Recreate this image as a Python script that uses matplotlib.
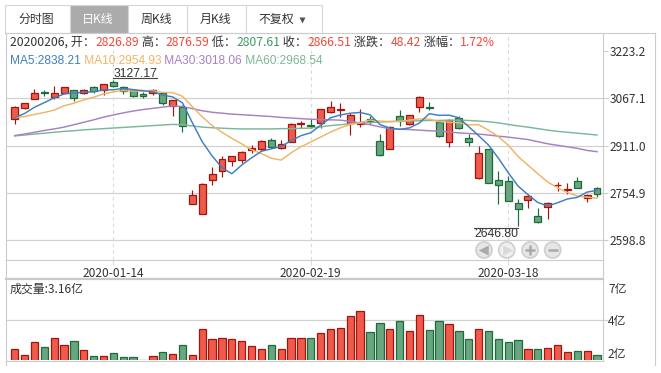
import numpy as np
import matplotlib.pyplot as plt
from matplotlib.patches import Rectangle, Circle
from matplotlib.transforms import ScaledTranslation

# ---- style ----
W, H = 661, 373
TEXT = '#333333'
BORDER = '#cccccc'
GRID = '#d2d2d2'
RED_FILL, RED_EDGE = '#ef5a4a', '#a3140d'
GRN_FILL, GRN_EDGE = '#68a680', '#1d6b39'
VAL_RED, VAL_GRN = '#ee4b3b', '#3f9b62'
MA_COLORS = ['#3f7fbf', '#f2b366', '#a780c2', '#7ab897']

plt.rcParams['font.family'] = ['Noto Sans CJK SC', 'DejaVu Sans']
plt.rcParams['axes.unicode_minus'] = False

# ---- data (上证指数 日K) ----
dates = ['2019-12-30', '2019-12-31', '2020-01-02', '2020-01-03', '2020-01-06', '2020-01-07',
         '2020-01-08', '2020-01-09', '2020-01-10', '2020-01-13', '2020-01-14', '2020-01-15',
         '2020-01-16', '2020-01-17', '2020-01-20', '2020-01-21', '2020-01-22', '2020-01-23',
         '2020-02-03', '2020-02-04', '2020-02-05', '2020-02-06', '2020-02-07', '2020-02-10',
         '2020-02-11', '2020-02-12', '2020-02-13', '2020-02-14', '2020-02-17', '2020-02-18',
         '2020-02-19', '2020-02-20', '2020-02-21', '2020-02-24', '2020-02-25', '2020-02-26',
         '2020-02-27', '2020-02-28', '2020-03-02', '2020-03-03', '2020-03-04', '2020-03-05',
         '2020-03-06', '2020-03-09', '2020-03-10', '2020-03-11', '2020-03-12', '2020-03-13',
         '2020-03-16', '2020-03-17', '2020-03-18', '2020-03-19', '2020-03-20', '2020-03-23',
         '2020-03-24', '2020-03-25', '2020-03-26', '2020-03-27', '2020-03-30', '2020-03-31']

opens = [2998.2, 3036.4, 3066.3, 3089.0, 3070.9, 3085.5, 3094.2, 3084.0, 3103.0, 3095.0,
         3121.0, 3103.0, 3095.0, 3081.0, 3083.0, 3085.5, 3042.0, 3037.95, 2716.70, 2685.27,
         2797.0, 2826.89, 2859.0, 2863.0, 2895.0, 2899.0, 2928.0, 2902.0, 2924.0, 2982.0,
         2980.5, 2985.0, 3023.0, 3027.0, 2985.0, 2982.0, 2998.0, 2926.0, 2901.0, 3008.0,
         2982.0, 3040.0, 3040.0, 2988.0, 2924.0, 3001.0, 2937.0, 2804.2, 2899.0, 2797.0,
         2794.0, 2721.0, 2731.0, 2678.0, 2708.0, 2779.5, 2763.5, 2793.0, 2739.0, 2771.0]
highs = [3041.4, 3051.7, 3098.1, 3093.8, 3107.2, 3105.5, 3094.2, 3097.0, 3106.4, 3115.8,
         3127.17, 3108.0, 3096.0, 3086.6, 3098.0, 3086.0, 3063.0, 3045.57, 2766.0, 2787.0,
         2841.6, 2876.59, 2877.0, 2893.0, 2914.0, 2929.0, 2935.0, 2929.0, 2986.0, 2992.0,
         2999.0, 3031.0, 3059.0, 3050.5, 3019.0, 3031.0, 3010.0, 2949.0, 2976.0, 3028.0,
         3013.0, 3074.3, 3054.0, 2990.0, 3000.0, 3010.0, 2948.0, 2910.9, 2900.0, 2828.0,
         2812.0, 2736.0, 2750.0, 2706.0, 2726.0, 2791.0, 2789.0, 2806.6, 2751.0, 2773.0]
lows = [2983.3, 3030.5, 3066.3, 3074.5, 3065.3, 3084.3, 3059.1, 3080.0, 3083.0, 3078.0,
        3105.5, 3080.0, 3070.4, 3067.9, 3078.0, 3046.0, 3008.7, 2955.35, 2716.70, 2685.27,
        2780.0, 2807.61, 2845.0, 2853.0, 2886.0, 2893.0, 2905.0, 2901.0, 2924.0, 2968.0,
        2969.0, 2968.0, 3018.0, 3006.0, 2945.0, 2973.0, 2982.0, 2878.0, 2899.0, 2977.0,
        2980.0, 3023.0, 3028.6, 2940.0, 2905.0, 2966.0, 2910.0, 2800.0, 2787.0, 2718.0,
        2727.0, 2646.80, 2704.0, 2657.0, 2669.0, 2762.0, 2750.5, 2772.0, 2724.0, 2743.0]
closes = [3040.02, 3050.12, 3085.20, 3083.79, 3083.41, 3104.80, 3066.89, 3094.88, 3092.29, 3115.57,
          3106.82, 3090.04, 3074.08, 3075.50, 3095.79, 3052.14, 3060.75, 2976.53, 2746.61, 2783.29,
          2818.09, 2866.51, 2875.96, 2890.49, 2901.67, 2926.90, 2906.07, 2917.01, 2983.62, 2984.97,
          2975.40, 3030.15, 3039.67, 3031.23, 3013.05, 2987.93, 2991.33, 2880.30, 2970.93, 2992.90,
          3011.67, 3071.68, 3034.51, 2943.29, 2996.76, 2968.52, 2923.49, 2887.43, 2789.25, 2779.64,
          2728.76, 2702.13, 2745.62, 2660.17, 2722.44, 2781.59, 2764.91, 2772.20, 2747.21, 2750.30]
volumes = [2.48, 2.11, 2.93, 2.60, 3.16, 2.73, 2.99, 2.42, 2.05, 2.05,
           2.23, 1.99, 1.99, 1.82, 2.05, 2.29, 2.17, 2.73, 2.11, 3.71,
           3.10, 3.16, 3.10, 2.97, 2.66, 2.48, 2.73, 2.48, 3.16, 3.16,
           3.16, 3.47, 3.71, 3.78, 4.52, 4.82, 3.53, 4.08, 3.71, 4.21,
           3.59, 4.58, 3.65, 4.21, 4.02, 3.59, 3.10, 3.71, 3.59, 3.10,
           2.93, 3.03, 2.48, 2.48, 2.54, 2.73, 2.29, 2.37, 2.37, 2.11]  # 亿

ma5 = [3003.39, 3016.88, 3037.55, 3052.83, 3068.51, 3081.46, 3084.82, 3086.75, 3088.45, 3094.89,
       3095.29, 3099.92, 3095.76, 3092.40, 3088.45, 3077.51, 3071.65, 3052.14, 2986.36, 2923.86,
       2877.05, 2838.21, 2818.09, 2846.87, 2870.54, 2892.31, 2900.22, 2908.43, 2927.05, 2943.71,
       2953.41, 2978.23, 3002.76, 3012.28, 3017.90, 3020.41, 3012.64, 2980.77, 2968.71, 2964.68,
       2969.43, 2985.50, 3016.34, 3010.81, 3011.58, 3002.95, 2973.31, 2943.90, 2913.09, 2869.67,
       2821.71, 2777.44, 2749.08, 2723.26, 2711.82, 2722.39, 2734.95, 2740.26, 2757.67, 2763.24]
ma10 = [3004.12, 3006.89, 3013.71, 3020.38, 3028.22, 3042.43, 3050.85, 3062.15, 3070.64, 3081.70,
        3088.38, 3092.37, 3091.26, 3090.43, 3091.67, 3086.40, 3085.79, 3073.95, 3039.38, 3006.16,
        2977.28, 2954.93, 2935.12, 2916.62, 2897.20, 2884.68, 2869.21, 2863.26, 2886.96, 2907.13,
        2922.86, 2939.22, 2955.60, 2969.67, 2980.81, 2986.91, 2995.44, 2991.77, 2990.50, 2991.29,
        2994.92, 2999.07, 2998.55, 2989.76, 2988.13, 2986.19, 2979.41, 2980.12, 2961.95, 2940.62,
        2912.33, 2875.38, 2846.49, 2818.18, 2790.75, 2772.05, 2756.19, 2744.67, 2740.47, 2737.53]
ma30 = [2944, 2949, 2955, 2961, 2966, 2972, 2980, 2988, 2996, 3005,
        3012, 3019, 3025, 3030, 3034, 3038, 3042, 3040, 3033, 3026,
        3021, 3018.06, 3015, 3013, 3011, 3009, 3007, 3004, 3002, 3000,
        2998, 2997, 2996, 2995, 2991, 2985, 2980, 2973, 2967, 2965,
        2964, 2962, 2960, 2959, 2956, 2953, 2951, 2949, 2946, 2942,
        2939, 2935, 2931, 2924, 2917, 2912, 2907, 2902, 2895, 2891]
ma60 = [2943, 2946, 2949, 2952, 2955, 2958, 2960, 2963, 2965, 2967,
        2969, 2971, 2973, 2975, 2977, 2979, 2981, 2980, 2976, 2972,
        2970, 2968.54, 2967, 2966, 2966, 2966, 2966, 2967, 2967, 2968,
        2969, 2973, 2977, 2980, 2983, 2985, 2987, 2989, 2990, 2992,
        2992, 2993, 2994, 2994, 2995, 2995, 2994, 2992, 2990, 2986,
        2981, 2976, 2972, 2967, 2962, 2958, 2955, 2952, 2949, 2946]

price_ticks = [3223.2, 3067.1, 2911.0, 2754.9, 2598.8]
vol_ticks = [1.8, 4.3, 6.8]
label_idx = [10, 30, 50]
focus = 21   # 20200206
tab_names = ['分时图', '日K线', '周K线', '月K线', '不复权']

# ---- figure ----
fig = plt.figure(figsize=(W / 100, H / 100), dpi=100, facecolor='white')


def px_box(x0, y0, x1, y1):
    return [x0 / W, 1 - y1 / H, (x1 - x0) / W, (y1 - y0) / H]


ax = fig.add_axes(px_box(5.5, 33, 603, 260))
axv = fig.add_axes(px_box(5.5, 279.3, 603, 360.3))
ui = fig.add_axes([0, 0, 1, 1])
ui.set_xlim(0, W)
ui.set_ylim(H, 0)
ui.axis('off')
ui.patch.set_visible(False)
ui.set_zorder(5)

o = np.array(opens); c = np.array(closes)
hi = np.array(highs); lo = np.array(lows)
x = np.arange(len(dates))
up = c >= o
fills = np.where(up, RED_FILL, GRN_FILL)
edges = np.where(up, RED_EDGE, GRN_EDGE)

# candles
ax.vlines(x, lo, hi, colors=edges, lw=0.85, zorder=2)
body_h = np.maximum(np.abs(c - o), 3.0)
ax.bar(x, body_h, bottom=np.minimum(o, c), width=0.7, color=fills,
       edgecolor=edges, linewidth=0.9, zorder=3)

for ma, col in zip([ma60, ma30, ma10, ma5], MA_COLORS[::-1]):
    ax.plot(x, ma, color=col, lw=1.05, zorder=4)

ax.set_xlim(-0.932, 59.605)
ax.set_ylim(2533.5, 3282.6)
for s in ax.spines.values():
    s.set_visible(False)
ax.set_facecolor('none')
ax.yaxis.tick_right()
ax.set_yticks(price_ticks)
ax.set_yticklabels([f'{v:.1f}' for v in price_ticks])
ax.tick_params(axis='y', length=3.7, width=0.8, color=BORDER, pad=1.2,
               labelsize=8.6, labelcolor=TEXT)
ax.set_xticks(label_idx)
ax.set_xticklabels([dates[i] for i in label_idx])
ax.tick_params(axis='x', length=3.5, width=0.8, color='#dddddd', pad=1.2,
               labelsize=8.6, labelcolor=TEXT)
for v in price_ticks[1:]:
    ax.axhline(v, color=GRID, lw=0.9, zorder=0)
for i in label_idx:
    ax.axvline(i, color='#d9d9d9', lw=0.8, ls=(0, (3, 3)), zorder=0)

# volume
axv.bar(x, volumes, width=0.74, color=fills, edgecolor=edges, linewidth=0.9, zorder=3)
axv.set_xlim(-0.932, 59.605)
axv.set_ylim(vol_ticks[0], vol_ticks[-1])
for s in axv.spines.values():
    s.set_visible(False)
axv.set_xticks([])
axv.yaxis.tick_right()
axv.set_yticks(vol_ticks)
axv.set_yticklabels([f'{round(v)}亿' for v in vol_ticks])
axv.tick_params(axis='y', length=0, pad=3.6, labelsize=8.6, labelcolor=TEXT)
for lbl, dy in zip(axv.get_yticklabels(), [7, 0, -8.5]):
    lbl.set_transform(lbl.get_transform() + ScaledTranslation(0, dy / 100, fig.dpi_scale_trans))
axv.axhline(vol_ticks[1], xmax=1.0084, color=GRID, lw=0.9, clip_on=False, zorder=0)

# frame lines
ui.plot([5, 655], [32.5, 32.5], color=BORDER, lw=0.8)
ui.plot([5.5, 5.5], [32.5, 365], color=BORDER, lw=0.8)
ui.plot([603, 603], [32.5, 360.5], color=BORDER, lw=0.8)
ui.plot([655, 655], [32.5, 365], color=BORDER, lw=0.8)
ui.plot([5.5, 603], [260, 260], color=BORDER, lw=0.8)
ui.plot([5.5, 603], [278.5, 278.5], color='#c8c8c8', lw=1.6)
ui.plot([5.5, 603], [360.5, 360.5], color=BORDER, lw=0.8)

# tabs
tab_edges = [5, 70, 128, 187, 246, 322]
for k, name in enumerate(tab_names):
    x0, x1 = tab_edges[k], tab_edges[k + 1]
    sel = k == 1
    ui.add_patch(Rectangle((x0, 5), x1 - x0, 27.5, fc='#ababab' if sel else 'white',
                           ec='#d6d6d6', lw=0.8))
    cx = (x0 + x1) / 2 - (8 if k == 4 else 1)
    ui.text(cx, 19, name, ha='center', va='center', fontsize=8.6,
            color='white' if sel else TEXT)
ui.plot([301.5], [19.5], marker='v', ms=4.5, color='#555555', mec='none')

r = fig.canvas.get_renderer()


def run_text(x0, y, parts, size=8.6, va='center', family=None):
    for s, col in parts:
        t = ui.text(x0, y, s, color=col, fontsize=size, ha='left', va=va)
        if family:
            t.set_family(family)
        x0 += t.get_window_extent(renderer=r).width


prev = closes[focus - 1]
chg = closes[focus] - prev
run_text(10, 42.5, [
    (dates[focus].replace('-', '') + ', 开：', TEXT), (f'{opens[focus]:.2f}', VAL_RED if opens[focus] >= prev else VAL_GRN),
    (' 高：', TEXT), (f'{highs[focus]:.2f}', VAL_RED if highs[focus] >= prev else VAL_GRN),
    (' 低：', TEXT), (f'{lows[focus]:.2f}', VAL_RED if lows[focus] >= prev else VAL_GRN),
    (' 收：', TEXT), (f'{closes[focus]:.2f}', VAL_RED if chg >= 0 else VAL_GRN),
    (' 涨跌：', TEXT), (f'{chg:.2f}', VAL_RED if chg >= 0 else VAL_GRN),
    (' 涨幅：', TEXT), (f'{chg / prev * 100:.2f}%', VAL_RED if chg >= 0 else VAL_GRN),
], size=8.77)
run_text(10, 63.5, [
    (f'MA5:{ma5[focus]:.2f}', MA_COLORS[0]), (f' MA10:{ma10[focus]:.2f}', MA_COLORS[1]),
    (f' MA30:{ma30[focus]:.2f}', MA_COLORS[2]), (f' MA60:{ma60[focus]:.2f}', MA_COLORS[3]),
], size=8.55, va='baseline', family='Liberation Sans')
ui.text(10, 289, f'成交量:{volumes[focus]:.2f}亿', fontsize=8.6, color=TEXT, ha='left', va='center')

# max / min marks
i_hi, i_lo = int(np.argmax(hi)), int(np.argmin(lo))
t_hi = ax.annotate(f'{hi[i_hi]:.2f}', xy=(i_hi, hi[i_hi]), xytext=(0, 2.2), textcoords='offset points',
                   ha='left', va='baseline', fontsize=8.8, color=TEXT, zorder=6,
                   family='Liberation Sans')
t_lo = ax.annotate(f'{lo[i_lo]:.2f}', xy=(i_lo, lo[i_lo]), xytext=(0, -2.0), textcoords='offset points',
                   ha='right', va='top', fontsize=8.8, color=TEXT, zorder=6,
                   family='Liberation Sans')
bb = t_hi.get_window_extent(renderer=r)
y_hi_px = H - ax.transData.transform((i_hi, hi[i_hi]))[1]
ui.plot([bb.x0, bb.x1], [y_hi_px - 1.8] * 2, color='#444444', lw=0.8)
bb = t_lo.get_window_extent(renderer=r)
ui.plot([bb.x0, bb.x1], [H - bb.y1] * 2, color='#444444', lw=0.8)

# navigation buttons
for cx, sym, col in zip([484, 506.7, 530, 552.7], ['<', '>', '+', '_'],
                        ['#a9a9a9', '#d8d8d8', '#a9a9a9', '#a9a9a9']):
    ui.add_patch(Circle((cx, 250), 8, fc='#e6e6e6' if sym != '>' else '#efefef',
                        ec='#d0d0d0', lw=1.3))
    ui.plot([cx], [250], marker=sym, ms=5 if sym in '<>' else 7, mew=1.8,
            color=col, mec=col)

fig.savefig('out.png', dpi=100, facecolor='white')
plt.close(fig)
